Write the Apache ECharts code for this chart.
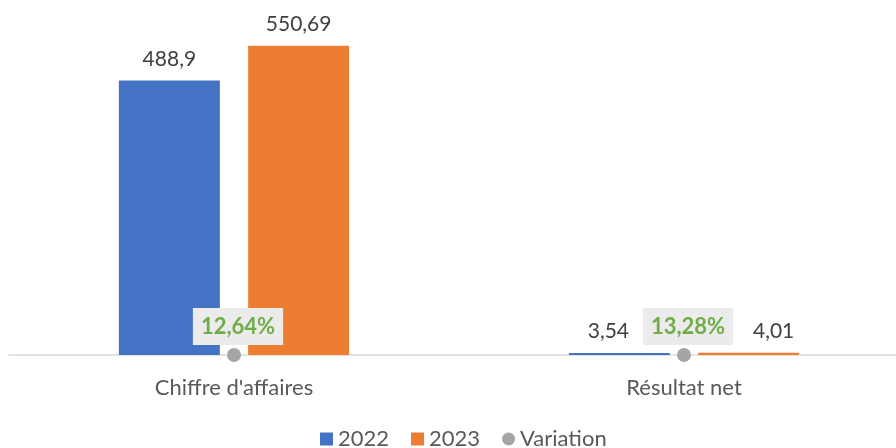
<!DOCTYPE html>
<html><head><meta charset="utf-8">
<script src="https://cdn.jsdelivr.net/npm/echarts@6/dist/echarts.min.js"></script>
<style>html,body{margin:0;padding:0;background:#fff}#c{width:896px;height:448px}</style>
</head><body><div id="c"></div>
<script>
const categories = ["Chiffre d'affaires", "Résultat net"];
const values2022 = [488.9, 3.54];
const values2023 = [550.69, 4.01];
const variation = [0.1264, 0.1328];
const seriesNames = ["2022", "2023", "Variation"];

const FONT = 'Lato, "Open Sans", sans-serif';
const fmtNum = v => String(v).replace('.', ',');
const fmtPct = v => (v * 100).toFixed(2).replace('.', ',') + '%';

const labelBase = { show: true, position: 'top', distance: 11, color: '#404040', fontSize: 21, fontFamily: FONT, formatter: p => fmtNum(p.value) };
const smallOffsets2022 = [[0, 0], [-11, 0]];
const smallOffsets2023 = [[0, 0], [25, 0]];

const chart = echarts.init(document.getElementById('c'));
chart.setOption({
  animation: false,
  grid: { left: 9, width: 900, top: 18, bottom: 93, outerBoundsMode: 'none', containLabel: false },
  legend: {
    top: 423, left: 315, itemWidth: 13, itemHeight: 13, itemGap: 22,
    textStyle: { color: '#595959', fontSize: 22, fontFamily: FONT },
    data: [
      { name: seriesNames[0], icon: 'rect' },
      { name: seriesNames[1], icon: 'rect' },
      { name: seriesNames[2], icon: 'circle' }
    ]
  },
  xAxis: {
    type: 'category', data: categories,
    axisLine: { lineStyle: { color: '#d9d9d9', width: 1.5 } },
    axisTick: { show: false },
    axisLabel: { color: '#595959', fontSize: 22, fontFamily: FONT, margin: 22 }
  },
  yAxis: { type: 'value', min: 0, max: 600, show: false, splitLine: { show: false } },
  series: [
    {
      name: seriesNames[0], type: 'bar', barWidth: 101, barGap: '28%',
      itemStyle: { color: '#4472c4' },
      data: values2022.map((v, i) => ({ value: v, label: { offset: smallOffsets2022[i] } })),
      label: labelBase
    },
    {
      name: seriesNames[1], type: 'bar', barWidth: 101,
      itemStyle: { color: '#ed7d31' },
      data: values2023.map((v, i) => ({ value: v, label: { offset: smallOffsets2023[i] } })),
      label: labelBase
    },
    {
      name: seriesNames[2], type: 'scatter', symbol: 'circle', symbolSize: 14,
      itemStyle: { color: '#a5a5a5', opacity: 1 }, z: 5,
      data: variation,
      label: {
        show: true, position: 'top', distance: 3, offset: [4, 0],
        color: '#70ad47', fontWeight: 'bold', fontSize: 22, fontFamily: FONT,
        backgroundColor: '#ebebeb', padding: [8, 8, 7, 8],
        formatter: p => fmtPct(p.value)
      }
    }
  ]
});
</script></body></html>
